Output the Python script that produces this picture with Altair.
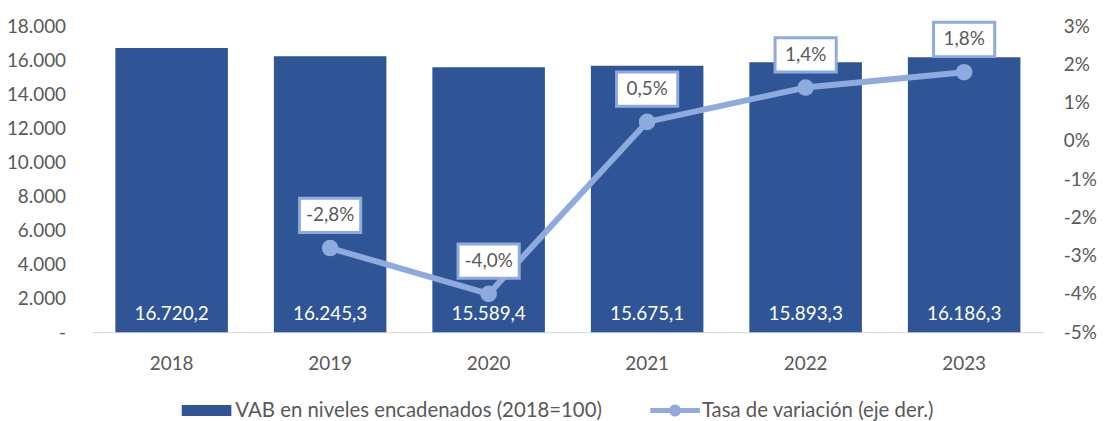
import altair as alt
import pandas as pd

years = ["2018", "2019", "2020", "2021", "2022", "2023"]
vab = [16720.2, 16245.3, 15589.4, 15675.1, 15893.3, 16186.3]
tasa = [None, -2.8, -4.0, 0.5, 1.4, 1.8]
serie_bar = "VAB en niveles encadenados (2018=100)"
serie_line = "Tasa de variación (eje der.)"
left_ticks = [0, 2000, 4000, 6000, 8000, 10000, 12000, 14000, 16000, 18000]
right_ticks = [-5, -4, -3, -2, -1, 0, 1, 2, 3]

BAR = "#2F5597"
LINE = "#8FAADC"
TXT = "#595959"
FONT = "Lato"
FS = 19
LFS = 20.5


def es_num(v):
    s = f"{v:,.1f}"
    return s.replace(",", "_").replace(".", ",").replace("_", ".")


def es_pct(v):
    if v is None:
        return None
    return f"{v:.1f}".replace(".", ",") + "%"


df = pd.DataFrame({
    "year": years,
    "vab": vab,
    "tasa": tasa,
    "vab_lbl": [es_num(v) for v in vab],
    "tasa_lbl": [es_pct(v) for v in tasa],
})
df["serie_bar"] = serie_bar
df["serie_line"] = serie_line

base = alt.Chart(df)

xenc = alt.X(
    "year:N", title=None,
    scale=alt.Scale(paddingInner=0.29, paddingOuter=0.145),
    axis=alt.Axis(labelAngle=0, labelFontSize=FS, labelColor=TXT, labelFont=FONT,
                  labelPadding=23, ticks=False, domainColor="#D9D9D9", domainWidth=1),
)

lscale = alt.Scale(domain=[0, 18000], nice=False)
laxis = alt.Axis(values=left_ticks,
                 labelExpr="datum.value == 0 ? '-\u00a0\u00a0' : replace(format(datum.value, ',.0f'), ',', '.')",
                 grid=False, domain=False, ticks=False, labelFontSize=FS, labelOverlap=False,
                 labelColor=TXT, labelFont=FONT, labelPadding=27, title=None)
yl = alt.Y("vab:Q", title=None, scale=lscale, axis=laxis)

bar_legend_shape = "M-1,-0.22L1,-0.22L1,0.22L-1,0.22Z"
line_legend_shape = ("M-1,-0.1L-0.218,-0.1A0.24,0.24 0 0 1 0.218,-0.1L1,-0.1L1,0.1"
                     "L0.218,0.1A0.24,0.24 0 0 1 -0.218,0.1L-1,0.1Z")
box_shape = "M-1,-0.56L1,-0.56L1,0.56L-1,0.56Z"

bars = base.mark_bar().encode(
    x=xenc, y=yl,
    color=alt.Color("serie_bar:N", scale=alt.Scale(range=[BAR]),
                    legend=alt.Legend(title=None, orient="none", legendX=90, legendY=362,
                                      symbolType=bar_legend_shape, symbolSize=2500,
                                      symbolStrokeWidth=0, labelFontSize=LFS, labelColor=TXT,
                                      labelFont=FONT, labelOffset=4, labelLimit=0, padding=0)),
)
bar_text = base.mark_text(color="white", fontSize=FS, font=FONT, dy=-18, baseline="middle").encode(
    x=xenc, y=alt.YDatum(0, axis=laxis, scale=lscale, title=None), text="vab_lbl:N"
)
left = alt.layer(bars, bar_text)

yr = alt.Y(
    "tasa:Q", title=None,
    scale=alt.Scale(domain=[-5, 3], nice=False),
    axis=alt.Axis(orient="right", values=right_ticks, labelOverlap=False,
                  labelExpr="datum.value + '%'", grid=False, domain=False, ticks=False,
                  labelFontSize=FS, labelColor=TXT, labelFont=FONT, labelPadding=20),
)

line = base.mark_line(strokeWidth=6).encode(
    x=xenc, y=yr,
    stroke=alt.Stroke("serie_line:N", scale=alt.Scale(range=[LINE]),
                      legend=alt.Legend(title=None, orient="none", legendX=562, legendY=362,
                                        symbolType=line_legend_shape, symbolSize=2500,
                                        symbolFillColor=LINE, symbolStrokeWidth=0,
                                        labelFontSize=LFS, labelColor=TXT, labelFont=FONT,
                                        labelOffset=2, labelLimit=0, padding=0)),
)
pts = base.mark_point(filled=True, size=280, color=LINE, opacity=1).encode(x=xenc, y=yr)
boxes = base.mark_point(shape=box_shape, size=3800, filled=True, fill="white", stroke=LINE,
                        strokeWidth=3, yOffset=-33, opacity=1).encode(x=xenc, y=yr)
lbls = base.mark_text(dy=-33, fontSize=FS, color=TXT, font=FONT, baseline="middle").encode(
    x=xenc, y=yr, text="tasa_lbl:N"
)
right = alt.layer(line, pts, boxes, lbls)

chart = alt.layer(left, right).resolve_scale(y="independent").properties(
    width=958, height=308,
    padding={"left": 85, "top": 17, "right": 54, "bottom": 88},
    autosize=alt.AutoSizeParams(type="none"),
).configure(font=FONT).configure_view(stroke=None)

chart.save("out.html", embed_options={"renderer": "svg", "actions": False})
